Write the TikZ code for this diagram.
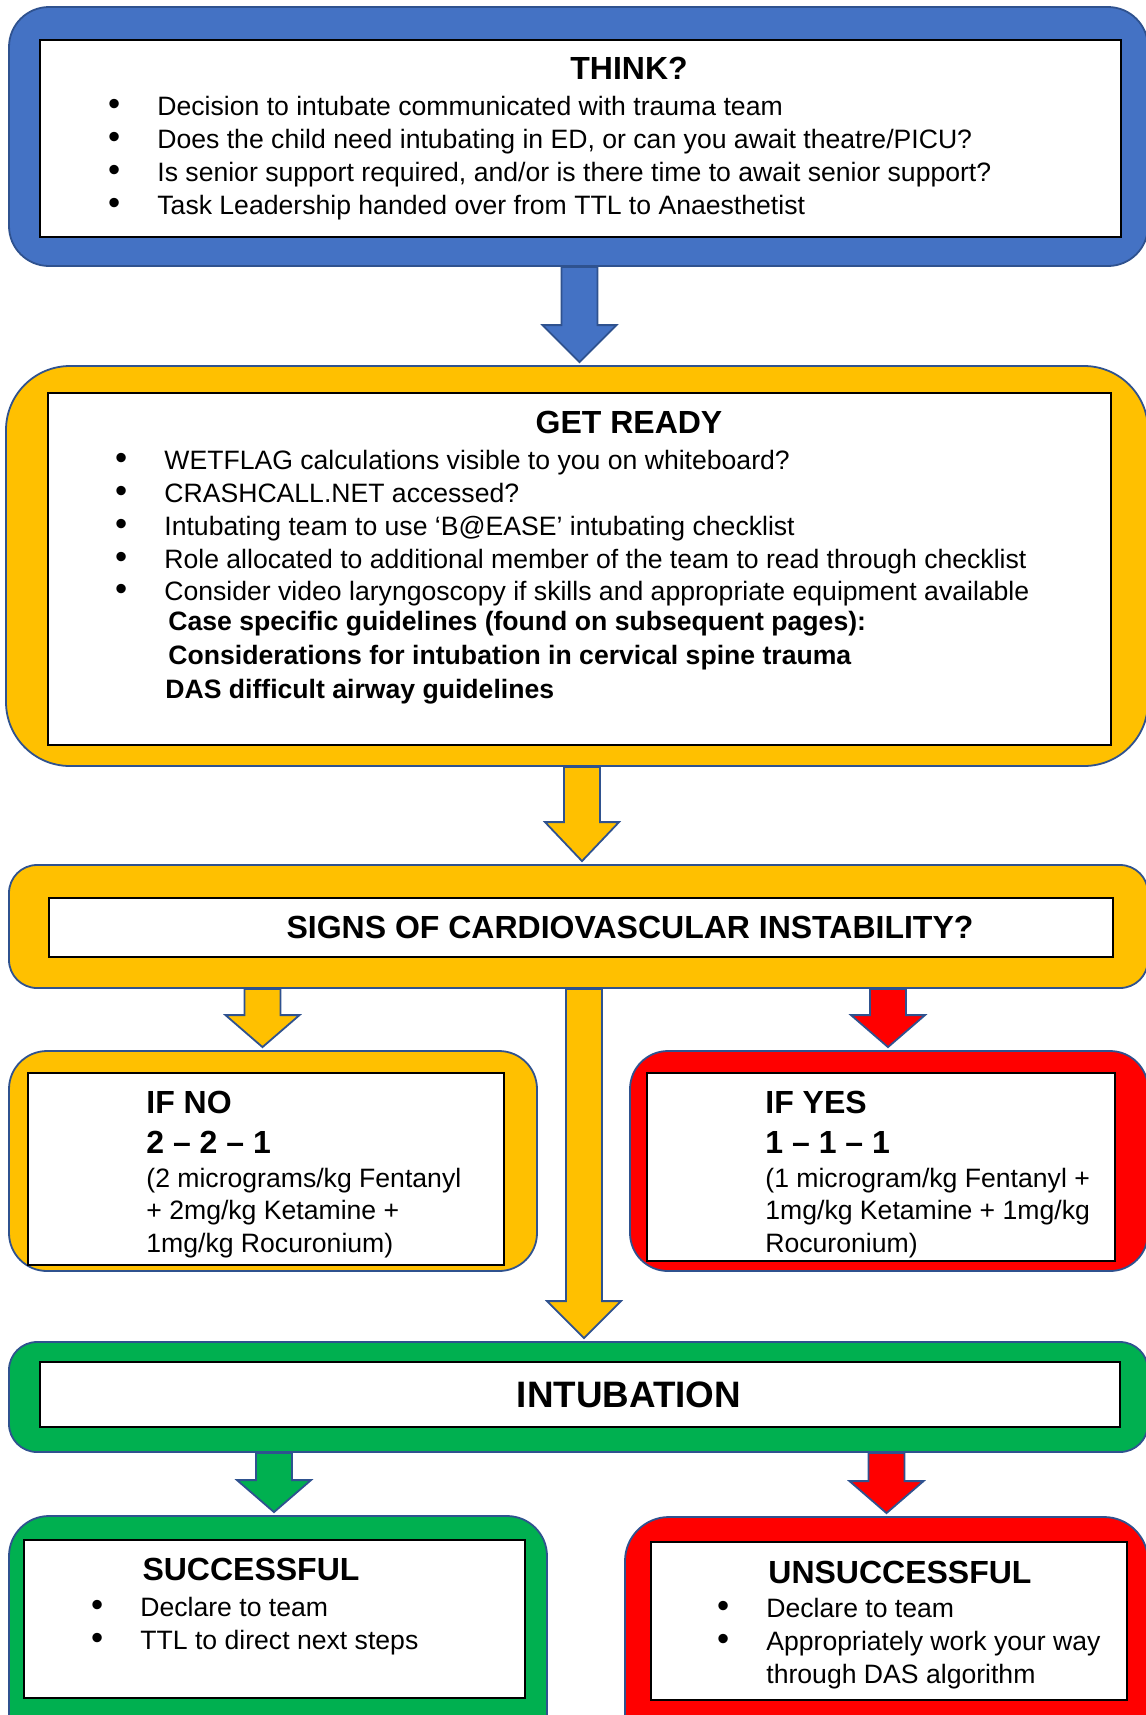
\documentclass[tikz,border=0pt]{standalone}
\usepackage{fontspec}
\setmainfont{Liberation Sans}
\usetikzlibrary{calc}

\definecolor{thinkblue}{HTML}{4472C4}
\definecolor{edgeblue}{HTML}{2F528F}
\definecolor{readyyellow}{HTML}{FFC000}
\definecolor{okgreen}{HTML}{00B050}
\definecolor{alarmred}{HTML}{FF0000}

\newcommand{\bul}{\llap{\makebox[24pt][l]{\kern-0.6pt\scalebox{1.3}{\textbullet}}}}
% block arrow: x, from node, to node, fill, head length
\newcommand{\blockdown}[5]{%
  \filldraw[blockarrow, fill=#4]
    let \p1=(#2.south), \p2=(#3.north), \p3=(#1,0) in
    (\x3-9pt,\y1) -- (\x3+9pt,\y1) -- (\x3+9pt,\y2+1.5pt+#5)
    -- (\x3+18.5pt,\y2+1.5pt+#5) -- (\x3,\y2+1.5pt)
    -- (\x3-18.5pt,\y2+1.5pt+#5) -- (\x3-9pt,\y2+1.5pt+#5) -- cycle;}

\begin{document}
\begin{tikzpicture}[x=0.5pt, y=-0.5pt,
  outer/.style={rectangle, draw=edgeblue, line width=0.9pt, inner sep=0pt},
  inner/.style={rectangle, draw=black, fill=white, line width=0.8pt, inner sep=0pt},
  blockarrow/.style={draw=edgeblue, line width=0.9pt, line join=miter},
  title/.style={anchor=base, inner sep=0pt, font=\bfseries\fontsize{16}{20}\selectfont},
  body/.style={anchor=base west, inner sep=0pt, align=left,
               font=\fontsize{13.3}{16.5}\selectfont}
]
  \useasboundingbox (0,0) rectangle (1146,1715);
  \clip (0,0) rectangle (1146,1715);

  % coloured frames
  \node[outer, fill=thinkblue, rounded corners=20pt,
        minimum width=569.5pt, minimum height=129.5pt] (think) at (578.5,136.5) {};
  \node[outer, fill=readyyellow, rounded corners=32pt,
        minimum width=571pt, minimum height=200pt] (ready) at (577,566) {};
  \node[outer, fill=readyyellow, rounded corners=14pt,
        minimum width=569.5pt, minimum height=61.5pt] (signs) at (578.5,926.5) {};
  \node[outer, fill=readyyellow, rounded corners=19pt,
        minimum width=264pt, minimum height=110pt] (ifno) at (273,1161) {};
  \node[outer, fill=alarmred, rounded corners=19pt,
        minimum width=259pt, minimum height=110pt] (ifyes) at (889,1161) {};
  \node[outer, fill=okgreen, rounded corners=14pt,
        minimum width=569.5pt, minimum height=55pt] (intub) at (578.5,1397) {};
  \node[outer, fill=okgreen, rounded corners=20pt,
        minimum width=269pt, minimum height=132pt] (succ) at (278,1648) {};
  \node[outer, fill=alarmred, rounded corners=22pt,
        minimum width=261.5pt, minimum height=131.5pt] (unsucc) at (886.5,1648.5) {};

  % arrows
  \blockdown{579.5}{think}{ready}{thinkblue}{18.5pt}
  \blockdown{582}{ready}{signs}{readyyellow}{19.5pt}
  \blockdown{262.5}{signs}{ifno}{readyyellow}{16pt}
  \blockdown{888}{signs}{ifyes}{alarmred}{16pt}
  \blockdown{584}{signs}{intub}{readyyellow}{18.5pt}
  \blockdown{274}{intub}{succ}{okgreen}{16pt}
  \blockdown{886.5}{intub}{unsucc}{alarmred}{16pt}

  % white panels
  \node[inner, minimum width=540.5pt, minimum height=98.5pt] (thinkin) at (580.5,138.5) {};
  \node[inner, minimum width=531.5pt, minimum height=176pt] (readyin) at (579.5,569) {};
  \node[inner, minimum width=532pt, minimum height=29.5pt] (signsin) at (581,927.5) {};
  \node[inner, minimum width=238pt, minimum height=96pt] (ifnoin) at (266,1169) {};
  \node[inner, minimum width=234pt, minimum height=94pt] (ifyesin) at (881,1167) {};
  \node[inner, minimum width=540pt, minimum height=32.5pt] (intubin) at (580,1394.5) {};
  \node[inner, minimum width=250.5pt, minimum height=79pt] (succin) at (274.5,1619) {};
  \node[inner, minimum width=238pt, minimum height=79pt] (unsuccin) at (889,1621) {};

  % texts (multi-line nodes sit on their last baseline)
  \node[title] (thinkhead) at (629,79) {THINK?};
  \node[body] (thinklist) at (157,214) {%
    \bul Decision to intubate communicated with trauma team\\
    \bul Does the child need intubating in ED, or can you await theatre/PICU?\\
    \bul Is senior support required, and/or is there time to await senior support?\\
    \bul Task Leadership handed over from TTL to Anaesthetist};

  \node[title] (readyhead) at (629,433) {GET READY};
  \node[body, font=\fontsize{13.3}{16.35}\selectfont] (readylist) at (164,600.7) {%
    \bul WETFLAG calculations visible to you on whiteboard?\\
    \bul CRASHCALL.NET accessed?\\
    \bul Intubating team to use ‘B@EASE’ intubating checklist\\
    \bul Role allocated to additional member of the team to read through checklist\\
    \bul Consider video laryngoscopy if skills and appropriate equipment available};
  \node[body, font=\bfseries\fontsize{13.3}{17}\selectfont] (readyguides) at (168,698) {%
    Case specific guidelines (found on subsequent pages):\\
    Considerations for intubation in cervical spine trauma\\
    \kern-1.5pt DAS difficult airway guidelines};

  \node[title] (signshead) at (630,938) {SIGNS OF CARDIOVASCULAR INSTABILITY?};

  \node[body, font=\bfseries\fontsize{16}{20}\selectfont] (ifnohead) at (146,1153) {IF NO\\2 – 2 – 1};
  \node[body, font=\fontsize{13.3}{16.25}\selectfont] (ifnodose) at (146,1252) {%
    (2 micrograms/kg Fentanyl\\
    + 2mg/kg Ketamine +\\
    1mg/kg Rocuronium)};

  \node[body, font=\bfseries\fontsize{16}{20}\selectfont] (ifyeshead) at (765,1153) {IF YES\\1 – 1 – 1};
  \node[body, font=\fontsize{13.3}{16.25}\selectfont] (ifyesdose) at (765,1252) {%
    (1 microgram/kg Fentanyl +\\
    1mg/kg Ketamine + 1mg/kg\\
    Rocuronium)};

  \node[title, font=\bfseries\fontsize{18.4}{22}\selectfont] (intubhead) at (629,1407) {INTUBATION};

  \node[title] (succhead) at (251,1580) {SUCCESSFUL};
  \node[body] (succlist) at (140,1649) {%
    \bul Declare to team\\
    \bul TTL to direct next steps};

  \node[title] (unsucchead) at (900,1583) {UNSUCCESSFUL};
  \node[body] (unsucclist) at (766,1683) {%
    \bul Declare to team\\
    \bul Appropriately work your way\\
    through DAS algorithm};
\end{tikzpicture}
\end{document}
